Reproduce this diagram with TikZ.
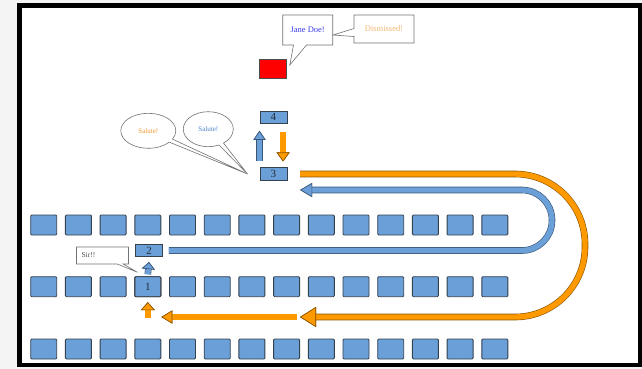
\documentclass[tikz,border=0pt]{standalone}
\usepackage{fontspec}
\setmainfont{Liberation Serif}
\usetikzlibrary{arrows.meta,calc,shapes.callouts}
\definecolor{SeatBlue}{HTML}{6A9FD8}
\definecolor{SeatEdge}{HTML}{34414F}
\definecolor{MarchOrange}{HTML}{FF9900}
\definecolor{SaluteOrange}{HTML}{F0962E}
\definecolor{SaluteBlue}{HTML}{4A7FC8}
\definecolor{PaleOrange}{HTML}{F4B870}
\definecolor{NameBlue}{HTML}{3A3AE8}
\definecolor{Backdrop}{HTML}{F4F4F4}
\tikzset{
Seat/.style={draw=SeatEdge,fill=SeatBlue,line width=.9pt,rounded corners=1pt,minimum width=26pt,minimum height=20pt,inner sep=0pt,text=SeatEdge!70!black,font=\fontsize{11}{11}\selectfont},
Spot/.style={Seat,rounded corners=0pt,line width=.6pt,minimum width=27pt,minimum height=12.5pt},
Speech/.style={rectangle callout,draw=black!55,fill=white,line width=.6pt,inner sep=0pt,font=\fontsize{8.5}{9}\selectfont},
Thought/.style={ellipse callout,draw=black!55,fill=white,line width=.6pt,inner sep=0pt,callout pointer arc=12,font=\fontsize{7}{7}\selectfont}
}
\newcommand{\BlockArrow}[3]{%
	\draw[line width=6.6pt,draw=#1!55!black,-{Triangle[#2,line width=.6pt,fill=#1!55!black]}] #3;%
	\draw[line width=5.4pt,draw=#1,-{Triangle[#2,line width=.6pt,color=#1!55!black,fill=#1]}] #3;%
}

\begin{document}
\begin{tikzpicture}[x=1pt,y=-1pt]
	\useasboundingbox (0,0) rectangle (642,369);
	\fill[Backdrop] (0,0) rectangle (642,369);
	\draw[line width=4.5pt,fill=white] (19.5,5.5) rectangle (640,365);
	
	% Seats
	\foreach \r/\y in {1/225,2/286.7,3/349}
		\foreach \c in {0,...,13}
			\node[Seat] (seat\r-\c) at (43.7+34.7*\c,\y) {};
	
	% Positions
	\node[Seat,draw=black!80] (one) at (seat2-3) {1};
	\node[Spot] (two) at (149,250.5) {2};
	\node[Spot] (three) at (273.3,174) {3};
	\node[Spot] (four) at (273.3,117.2) {4};
	\node[draw=black!70,fill=red,line width=.6pt,minimum width=27pt,minimum height=19pt,inner sep=0pt] (stage) at (273,68.8) {};
	
	% Callouts
	\node[Speech,minimum width=50pt,minimum height=30pt,callout pointer width=13pt,
		callout absolute pointer={([xshift=3pt,yshift=-6pt]stage.north east)},text=NameBlue] (jane) at (307.7,30) {Jane Doe!};
	\node[Speech,minimum width=60pt,minimum height=28pt,callout pointer width=8pt,
		callout absolute pointer={([yshift=-5pt]jane.east)},text=PaleOrange] (dismiss) at (384,29) {Dismissed!};
	\node[Thought,minimum width=55pt,minimum height=35pt,text=SaluteOrange,
		callout absolute pointer={([xshift=-12pt]three.west)}] (salutea) at (148.3,130.8) {Salute!};
	\node[Thought,minimum width=50pt,minimum height=35pt,text=SaluteBlue,
		callout absolute pointer={([xshift=-12pt]three.west)}] (saluteb) at (208.3,129.2) {Salute!};
	\node[Speech,minimum width=52pt,minimum height=17pt,text width=42pt,align=left,callout pointer width=6pt,
		callout absolute pointer={([xshift=3pt,yshift=4pt]one.north west)},font=\fontsize{7.5}{8}\selectfont,text=black!70] (sir) at (102.5,255.5) {Sir!!};
	
	% Marching
	\coordinate (turn) at (300,317);
	\BlockArrow{SeatBlue}{width=14pt,length=12pt}{[rounded corners=30pt] ([xshift=6pt]two.east) -- (552,250.5) -- (552,190) -- ([xshift=13pt,yshift=-16pt]three.east)}
	\BlockArrow{MarchOrange}{width=20pt,length=16pt}{[rounded corners=70pt] ([xshift=13pt]three.east) -- (585,174) -- (585,317) -- (turn)}
	\BlockArrow{MarchOrange}{width=13pt,length=11pt}{([xshift=-3pt]turn) -- (one.east |- turn)}
	\BlockArrow{MarchOrange}{width=14pt,length=8pt}{([yshift=-21pt]one.south) -- ([yshift=-5pt]one.south)}
	\BlockArrow{SeatBlue}{width=13pt,length=7pt}{([yshift=2pt]one.north) -- ([yshift=-5pt]two.south)}
	\BlockArrow{SeatBlue}{width=12pt,length=9pt}{([yshift=6pt]three.north west) -- ([yshift=-7pt]four.south west)}
	\BlockArrow{MarchOrange}{width=13pt,length=9pt}{([xshift=-4pt,yshift=-8pt]four.south east) -- ([xshift=-4pt,yshift=6pt]three.north east)}
\end{tikzpicture}
\end{document}
